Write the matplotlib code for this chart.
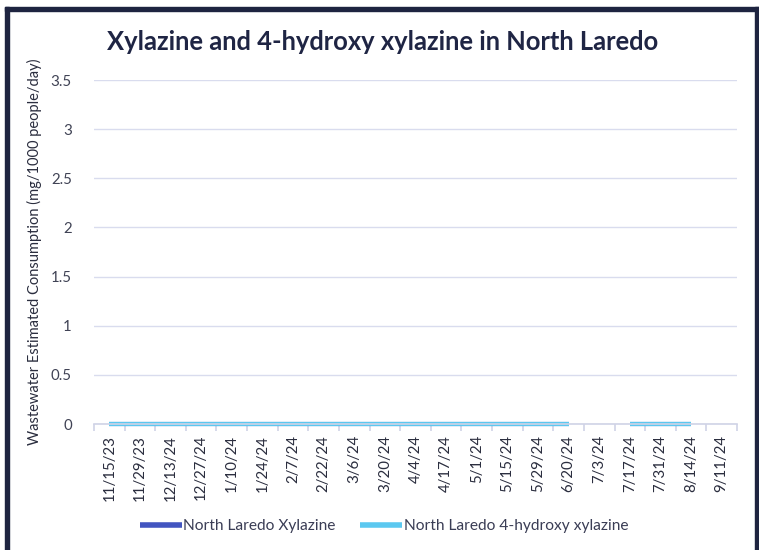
import numpy as np
import matplotlib
matplotlib.use("Agg")
import matplotlib.pyplot as plt
from matplotlib.patches import Rectangle

dates = ["11/15/23", "11/29/23", "12/13/24", "12/27/24", "1/10/24", "1/24/24",
         "2/7/24", "2/22/24", "3/6/24", "3/20/24", "4/4/24", "4/17/24", "5/1/24",
         "5/15/24", "5/29/24", "6/20/24", "7/3/24", "7/17/24", "7/31/24",
         "8/14/24", "9/11/24"]
xylazine = [0, 0, 0, 0, 0, 0, 0, 0, 0, 0, 0, 0, 0, 0, 0, 0,
            None, 0, 0, 0, None]
hydroxy = [0, 0, 0, 0, 0, 0, 0, 0, 0, 0, 0, 0, 0, 0, 0, 0,
           None, 0, 0, 0, None]

plt.rcParams["font.family"] = ["Lato", "DejaVu Sans"]

W, H = 759, 550
fig = plt.figure(figsize=(W / 100, H / 100), dpi=100)

# dark frame around the chart
frame = "#1E2440"
fig.patches.append(Rectangle((5 / W, 0), 4 / W, (H - 7) / H, transform=fig.transFigure, color=frame))
fig.patches.append(Rectangle((5 / W, (H - 11) / H), (W - 5) / W, 4 / H, transform=fig.transFigure, color=frame))
fig.patches.append(Rectangle((755 / W, 0), 4 / W, (H - 7) / H, transform=fig.transFigure, color=frame))

ax = fig.add_axes([94 / W, 1 - 424 / H, (737 - 94) / W, (424 - 80) / H])

x = np.arange(len(dates))
y1 = np.array([np.nan if v is None else v for v in xylazine], dtype=float)
y2 = np.array([np.nan if v is None else v for v in hydroxy], dtype=float)

ax.plot(x, y1, color="#4255C0", lw=3, solid_capstyle="butt", label="North Laredo Xylazine", clip_on=False)
ax.plot(x, y2, color="#5BC8F0", lw=3, solid_capstyle="butt", label="North Laredo 4-hydroxy xylazine", clip_on=False)

ax.set_xlim(-0.5, len(dates) - 0.5)
ax.set_ylim(0, 3.5)
ax.set_yticks(np.arange(0, 3.51, 0.5))
ax.set_yticklabels(["0", "0.5", "1", "1.5", "2", "2.5", "3", "3.5"])
ax.set_xticks(x)
ax.set_xticklabels(dates, rotation=90)
ax.set_xticks(np.arange(-0.5, len(dates), 1), minor=True)

grid_c = "#D9DCEE"
ax.grid(axis="y", color=grid_c, lw=1)
ax.set_axisbelow(True)
for s in ["top", "right", "left"]:
    ax.spines[s].set_visible(False)
ax.spines["bottom"].set_color("#D0D3E6")
ax.spines["bottom"].set_linewidth(1.2)

ax.tick_params(axis="x", which="major", length=0, pad=8, labelsize=10.8, labelcolor="#2A2D3E")
ax.tick_params(axis="x", which="minor", length=5, color="#D0D3E6", width=1.2)
ax.tick_params(axis="y", length=0, pad=16, labelsize=10.8, labelcolor="#404355")

ax.set_ylabel("Wastewater Estimated Consumption (mg/1000 people/day)", fontsize=10.5,
              color="#2A2D3E", labelpad=6)

fig.text(383 / W, 1 - 42 / H, "Xylazine and 4-hydroxy xylazine in North Laredo",
         ha="center", va="center", fontsize=18.4, fontweight="bold", color="#1F2544")

fig.legend(loc="center", bbox_to_anchor=(384 / W, 1 - 526 / H), ncol=2, frameon=False,
           fontsize=11.2, handlelength=2.7, handletextpad=0.1, columnspacing=1.6,
           labelcolor="#3A3D55")
for line in fig.legends[0].get_lines():
    line.set_linewidth(4)

fig.savefig("out.png", dpi=100)
